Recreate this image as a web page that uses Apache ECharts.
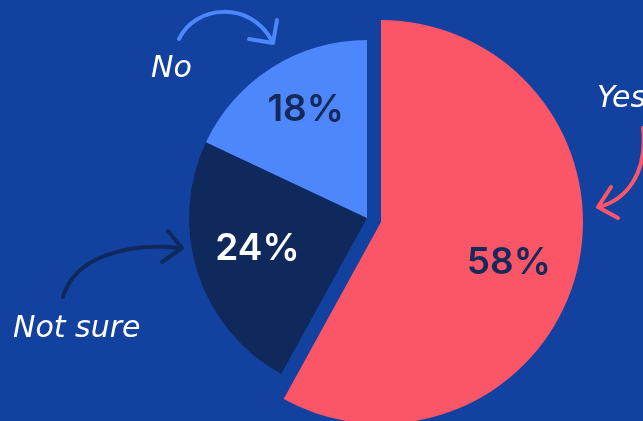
<!DOCTYPE html>
<html>
<head>
<meta charset="utf-8">
<script src="https://cdn.jsdelivr.net/npm/echarts@6/dist/echarts.min.js"></script>
<style>
html,body{margin:0;padding:0;background:#1241a0;}
#c{width:643px;height:421px;}
</style>
</head>
<body>
<div id="c"></div>
<script>
// Data (clockwise from 12 o'clock)
const categories = ['Yes', 'Not sure', 'No'];
const values = [58, 24, 18];
const sliceColors = ['#fb5668', '#10295c', '#4d87fb'];
const labelColors = ['#15295a', '#ffffff', '#15295a'];
// label offsets from default inside position
const labelShift = [[27, 15], [-22, 2], [-12, -30]];

const chart = echarts.init(document.getElementById('c'), null, {renderer: 'canvas'});

function makeData(visibleIdx) {
  return categories.map((name, i) => {
    const vis = visibleIdx.indexOf(i) >= 0;
    return {
      name: name,
      value: values[i],
      itemStyle: {color: vis ? sliceColors[i] : 'rgba(0,0,0,0)'},
      label: {show: vis, color: labelColors[i]}
    };
  });
}

const labelBase = {
  position: 'inside',
  formatter: '{c}%',
  fontFamily: 'Inter',
  fontWeight: 600,
  fontSize: 37
};

function shiftLayout(params) {
  const s = labelShift[params.dataIndex];
  return {dx: s[0], dy: s[1]};
}

const handFont = 'italic 200 30px "DejaVu Sans"';

chart.setOption({
  backgroundColor: '#1241a0',
  animation: false,
  series: [
    {
      type: 'pie',
      center: [367, 218],
      radius: 178,
      startAngle: 90,
      clockwise: true,
      silent: true,
      avoidLabelOverlap: false,
      label: labelBase,
      labelLine: {show: false},
      labelLayout: shiftLayout,
      data: makeData([1, 2])
    },
    {
      type: 'pie',
      center: [381, 222],
      radius: 202,
      startAngle: 90,
      clockwise: true,
      silent: true,
      avoidLabelOverlap: false,
      label: labelBase,
      labelLine: {show: false},
      labelLayout: shiftLayout,
      data: makeData([0])
    }
  ],
  graphic: [
    // "No" arrow
    {type: 'bezierCurve', shape: {x1: 179, y1: 39, cpx1: 195, cpy1: 5, cpx2: 250, cpy2: 0, x2: 272, y2: 41},
      style: {stroke: '#4d87fb', lineWidth: 4, fill: null, lineCap: 'round'}},
    {type: 'polyline', shape: {points: [[277, 20], [273, 43], [249, 39]]},
      style: {stroke: '#4d87fb', lineWidth: 4, fill: null, lineCap: 'round', lineJoin: 'round'}},
    // "Not sure" arrow
    {type: 'bezierCurve', shape: {x1: 63, y1: 297, cpx1: 75, cpy1: 255, cpx2: 130, cpy2: 243, x2: 180, y2: 248},
      style: {stroke: '#10295c', lineWidth: 4, fill: null, lineCap: 'round'}},
    {type: 'polyline', shape: {points: [[168, 231], [182, 248], [162, 262]]},
      style: {stroke: '#10295c', lineWidth: 4, fill: null, lineCap: 'round', lineJoin: 'round'}},
    // "Yes" arrow
    {type: 'bezierCurve', shape: {x1: 643, y1: 128, cpx1: 648, cpy1: 175, cpx2: 625, cpy2: 200, x2: 599, y2: 207},
      style: {stroke: '#fb5668', lineWidth: 4, fill: null, lineCap: 'round'}},
    {type: 'polyline', shape: {points: [[611, 187], [598, 207], [618, 218]]},
      style: {stroke: '#fb5668', lineWidth: 4, fill: null, lineCap: 'round', lineJoin: 'round'}},
    // handwritten labels
    {type: 'text', x: 151, y: 69, style: {text: 'No', font: handFont, textVerticalAlign: 'middle', fill: '#ffffff'}},
    {type: 'text', x: 13, y: 329, style: {text: 'Not sure', font: handFont, textVerticalAlign: 'middle', fill: '#ffffff'}},
    {type: 'text', x: 597, y: 99, style: {text: 'Yes', font: handFont, textVerticalAlign: 'middle', fill: '#ffffff'}}
  ]
});
</script>
</body>
</html>
